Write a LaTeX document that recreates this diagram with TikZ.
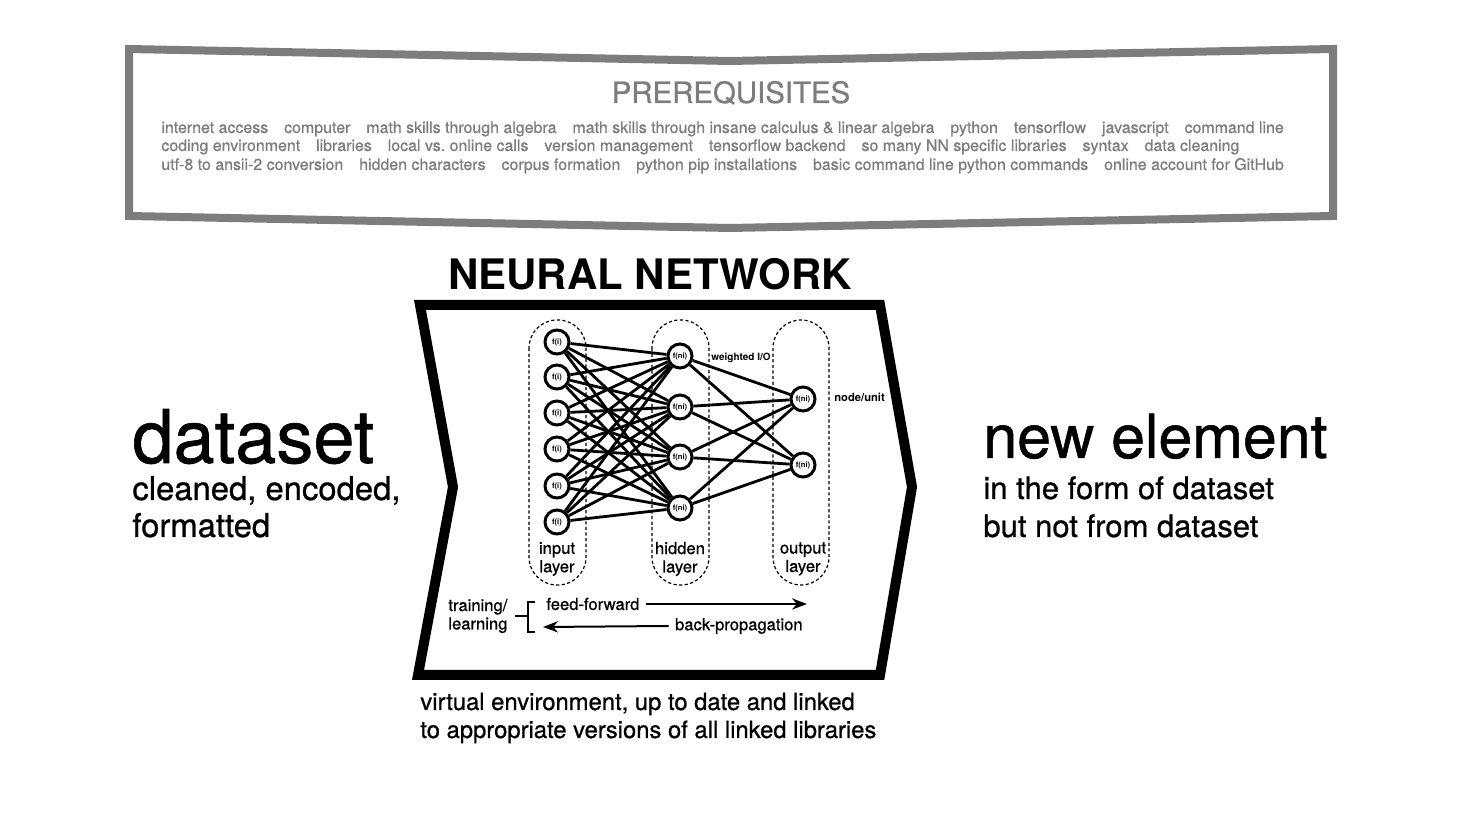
\documentclass[tikz,border=0pt]{standalone}
\usepackage{fontspec}
\setmainfont{TeX Gyre Heros}
\newfontfamily\medfont[FakeBold=0.8]{TeX Gyre Heros}
\usetikzlibrary{arrows.meta}
\definecolor{pregray}{RGB}{125,125,125}

\begin{document}
\begin{tikzpicture}[x=0.5pt,y=-0.5pt,>=Stealth,every node/.style={inner sep=0pt},
  neuron/.style={draw,circle,line width=1.5pt,minimum size=12pt,fill=white,font=\fontsize{3.8}{4}\selectfont\bfseries},
  link/.style={line width=1.4pt},
  layerbox/.style={line width=0.6pt,rounded corners=14pt,dash pattern=on 1.6pt off 1.2pt},
  lbl/.style={font=\fontsize{8.3}{9.2}\selectfont\medfont,align=center},
  prelist/.style={anchor=base west,text=pregray,font=\fontsize{7.97}{9}\selectfont\medfont},
  bigtext/.style={anchor=base west,font=\fontsize{#1}{#1}\selectfont\medfont}]
\useasboundingbox (0,0) rectangle (1480,833);
% prerequisites banner
\draw[pregray,line width=4pt] (129,49)--(730,61)--(1333,49)--(1333,216)--(730,228)--(129,216)--cycle;
\node[anchor=base,text=pregray,font=\fontsize{14.7}{16}\selectfont\medfont](pre) at (731,103){PREREQUISITES};
\node[prelist](pl1) at (161,133){internet access\quad computer\quad math skills through algebra\quad math skills through insane calculus \& linear algebra\quad python\quad tensorflow\quad javascript\quad command line};
\node[prelist](pl2) at (161,151){coding environment\quad libraries\quad local vs.\ online calls\quad version management\quad tensorflow backend\quad so many NN specific libraries\quad syntax\quad data cleaning};
\node[prelist](pl3) at (161,170){utf-8 to ansii-2 conversion\quad hidden characters\quad corpus formation\quad python pip installations\quad basic command line python commands\quad online account for GitHub};
% neural network frame
\node[anchor=base,font=\fontsize{21}{22}\selectfont\bfseries](nn) at (650,290){NEURAL NETWORK};
\draw[line width=5pt] (420,305)--(880,305)--(912,487)--(880,675)--(418,675)--(453,487)--cycle;
% layers
\draw[layerbox] (529,320) rectangle (586,585);
\draw[layerbox] (652,320) rectangle (709,585);
\draw[layerbox] (773,320) rectangle (829,585);
\node[neuron](i1) at (557,342){f(i)};
\node[neuron](i2) at (557,377){f(i)};
\node[neuron](i3) at (557,413){f(i)};
\node[neuron](i4) at (557,449){f(i)};
\node[neuron](i5) at (557,486){f(i)};
\node[neuron](i6) at (557,522){f(i)};
\node[neuron](h1) at (680,356){f(ni)};
\node[neuron](h2) at (680,407){f(ni)};
\node[neuron](h3) at (680,457){f(ni)};
\node[neuron](h4) at (680,508){f(ni)};
\node[neuron](o1) at (803,399){f(ni)};
\node[neuron](o2) at (803,465){f(ni)};
\foreach \a in {1,...,6}{\foreach \b in {1,...,4}{\draw[link](i\a)--(h\b);}}
\foreach \b in {1,...,4}{\draw[link](h\b)--(o1);\draw[link](h\b)--(o2);}
\node[font=\fontsize{5}{5}\selectfont\bfseries](wio) at (741,358){weighted I/O};
\node[anchor=west,font=\fontsize{5.6}{6}\selectfont\bfseries](nu) at (834,397){node/unit};
\node[lbl](il) at (557,559){input\\layer};
\node[lbl](hl) at (680,559){hidden\\layer};
\node[lbl](ol) at (803,559){output\\layer};
% training
\node[lbl,align=left,anchor=west](tl) at (448,616){training/\\learning};
\coordinate (bt) at (528,602);\coordinate (bb) at (528,632);\coordinate (bm) at (528,616);
\draw[line width=1.2pt] ([xshift=3.5pt]bt)--(bt)--(bb)--([xshift=3.5pt]bb);\draw[line width=1.2pt] ([xshift=-6.5pt]bm)--(bm);
\node[lbl,anchor=west,inner sep=3pt](ff) at (540,604){feed-forward};
\node[lbl,anchor=east,inner sep=3pt](bp) at (809,626){back-propagation};
\coordinate (ffe) at (807,604);\coordinate (bpe) at (543,627);
\draw[->,line width=1pt](ff.east)--(ffe);\draw[->,line width=1pt](bp.west)--(bpe);
% side texts
\node[bigtext=37](ds) at (132,463){dataset};
\node[bigtext=16.4](dsa) at (132,500){cleaned, encoded,};
\node[bigtext=16.4](dsb) at (132,537){formatted};
\node[bigtext=30.4](ne) at (983,458){new element};
\node[bigtext=15.5](nea) at (983,499){in the form of dataset};
\node[bigtext=15.5](neb) at (983,537){but not from dataset};
\node[bigtext=11.9](ve1) at (420,710){virtual environment, up to date and linked};
\node[bigtext=11.9](ve2) at (420,738){to appropriate versions of all linked libraries};
\end{tikzpicture}
\end{document}
